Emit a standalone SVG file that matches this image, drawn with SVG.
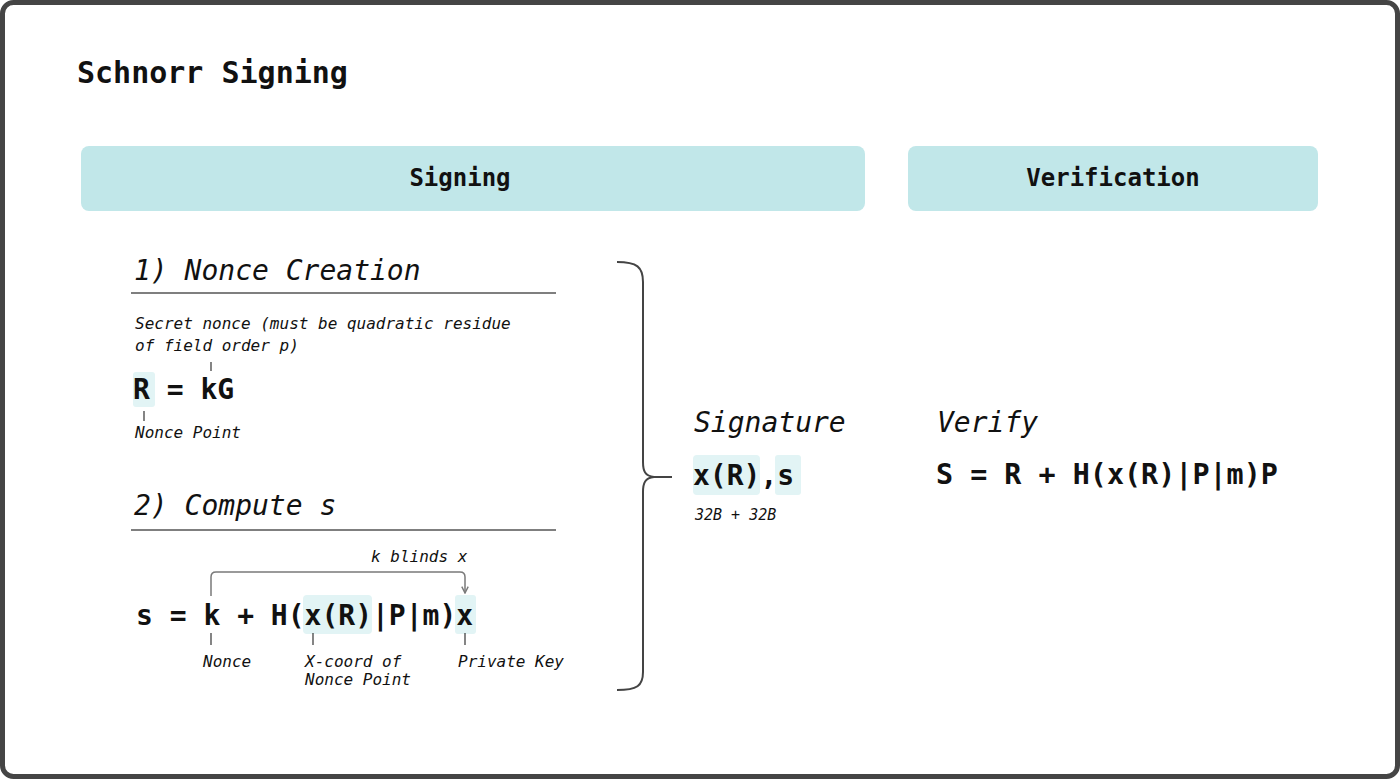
<svg xmlns="http://www.w3.org/2000/svg" width="1400" height="779" viewBox="0 0 1400 779">
<defs>
<style>
.mono{font-family:"DejaVu Sans Mono","Liberation Mono",monospace;fill:#111;}
.b{font-weight:bold;}
.it{font-style:italic;}
.hdr{fill:#c1e7e9;}
.hl{fill:#e2f4f5;}
.rule{stroke:#555;stroke-width:1.5;fill:none;}
.tick{stroke:#333;stroke-width:1.2;fill:none;}
.conn{stroke:#7a7a7a;stroke-width:1.5;fill:none;}
.brace{stroke:#444;stroke-width:2;fill:none;}
</style>
<marker id="arr" viewBox="0 0 10 10" refX="9" refY="5" markerWidth="8" markerHeight="8" markerUnits="userSpaceOnUse" orient="auto">
<path d="M1,1 L9,5 L1,9" fill="none" stroke="#7a7a7a" stroke-width="1.8"/>
</marker>
</defs>
<rect x="0" y="0" width="1400" height="779" fill="#fff"/>
<rect x="2.5" y="2.5" width="1395" height="774" rx="11" fill="#fff" stroke="#454545" stroke-width="5"/>

<g id="title"><text class="mono b" x="77" y="83" font-size="30">Schnorr Signing</text></g>

<g id="signing-header">
<rect class="hdr" x="81" y="146" width="784" height="65" rx="8"/>
<text class="mono b" x="460" y="186" font-size="24" text-anchor="middle">Signing</text>
</g>
<g id="verification-header">
<rect class="hdr" x="908" y="146" width="410" height="65" rx="8"/>
<text class="mono b" x="1113" y="186" font-size="24" text-anchor="middle">Verification</text>
</g>

<g id="nonce-creation">
<text class="mono it" x="134" y="280" font-size="28">1) Nonce Creation</text>
<line class="rule" x1="131" y1="293" x2="556" y2="293"/>
<text class="mono it" x="135" y="329" font-size="16">Secret nonce (must be quadratic residue</text>
<text class="mono it" x="135" y="351" font-size="16">of field order p)</text>
<rect class="hl" x="133" y="372" width="22" height="35" rx="3"/>
<text class="mono b" x="133" y="399" font-size="28">R = kG</text>
<text class="mono it" x="135" y="438" font-size="16">Nonce Point</text>
</g>

<g id="compute-s">
<text class="mono it" x="134" y="515" font-size="28">2) Compute s</text>
<line class="rule" x1="131" y1="530" x2="556" y2="530"/>
<text class="mono it" x="371" y="562" font-size="16">k blinds x</text>
<rect class="hl" x="303" y="595" width="69" height="39" rx="4"/>
<rect class="hl" x="455" y="595" width="21" height="39" rx="3"/>
<text class="mono b" x="136" y="625" font-size="28">s = k + H(x(R)|P|m)x</text>
<text class="mono it" x="203" y="667" font-size="16">Nonce</text>
<text class="mono it" x="305" y="667" font-size="16">X-coord of</text>
<text class="mono it" x="305" y="685" font-size="16">Nonce Point</text>
<text class="mono it" x="458" y="667" font-size="16">Private Key</text>
</g>

<g id="signature">
<text class="mono it" x="694" y="432" font-size="28">Signature</text>
<rect class="hl" x="693" y="455" width="67" height="40" rx="4"/>
<rect class="hl" x="775" y="455" width="26" height="40" rx="3"/>
<text class="mono b" x="693" y="485" font-size="28">x(R),s</text>
<text class="mono it" x="695" y="520" font-size="15">32B + 32B</text>
</g>

<g id="verify">
<text class="mono it" x="937" y="432" font-size="28">Verify</text>
<text class="mono b" x="936" y="484" font-size="28.4">S = R + H(x(R)|P|m)P</text>
</g>

<g id="connectors">
<line class="tick" x1="211" y1="362" x2="211" y2="371"/>
<line class="tick" x1="144" y1="411" x2="144" y2="421"/>
<line class="tick" x1="211" y1="633" x2="211" y2="645"/>
<line class="tick" x1="313" y1="633" x2="313" y2="645"/>
<line class="tick" x1="465" y1="633" x2="465" y2="645"/>
<path class="conn" d="M211,596 L211,577 Q211,572 216,572 L460,572 Q465,572 465,577 L465,593" marker-end="url(#arr)"/>
<path class="brace" d="M617,262 C637,262 643,267 643,282 L643,462 C643,471 645,476 654,477 L672,477 M654,477 C645,478 643,483 643,492 L643,672 C643,686 637,690 617,690"/>
</g>
</svg>
